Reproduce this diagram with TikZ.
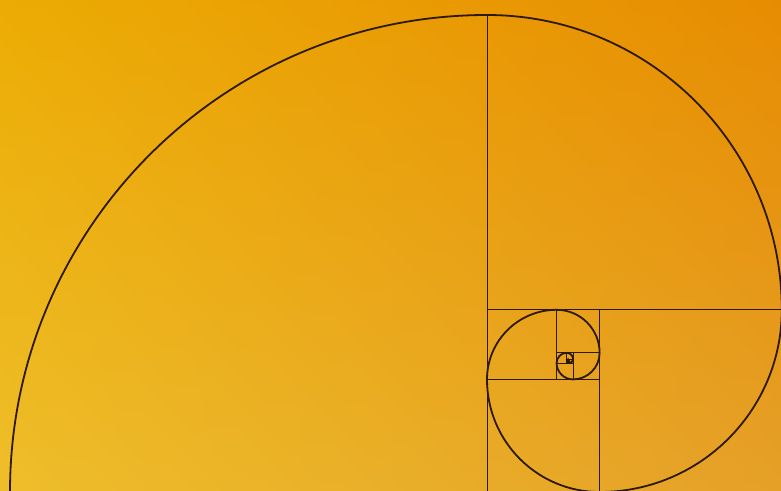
\documentclass[tikz,border=0pt]{standalone}
\usetikzlibrary{shadings}
\begin{document}
\begin{tikzpicture}[x=1pt,y=1pt,
  divider/.style={draw=linebrown, line width=1pt},
  spiralline/.style={draw=linebrown, line width=1.8pt, line cap=round, line join=round}]
\definecolor{linebrown}{RGB}{45,25,5}
\definecolor{cUL}{RGB}{236,172,4}
\definecolor{cUR}{RGB}{231,140,2}
\definecolor{cLL}{RGB}{238,190,42}
\definecolor{cLR}{RGB}{229,160,40}
\useasboundingbox (0,0) rectangle (781,490);
\shade[upper left=cUL, upper right=cUR, lower left=cLL, lower right=cLR] (0,0) rectangle (781,490);
\begin{scope}
\clip (0,0) rectangle (781,490);
% dividing lines of the golden rectangle
\draw[divider] (487.5,-2) -- (487.5,475);
\draw[divider] (487,180.2) -- (783,180.2);
\draw[divider] (599.6,-2) -- (599.6,180.2);
\draw[divider] (487,110.6) -- (599.6,110.6);
\draw[divider] (556.6,110.6) -- (556.6,180.2);
\draw[divider] (556.6,137.2) -- (599.6,137.2);
\draw[divider] (573.0,110.6) -- (573.0,137.2);
\draw[divider] (556.6,127.0) -- (573.0,127.0);
\draw[divider] (566.75,127.0) -- (566.75,137.2);
\draw[divider] (566.75,130.9) -- (573.0,130.9);
\draw[divider] (569.12,127.0) -- (569.12,130.9);
\fill[linebrown] (566.75,127.0) rectangle (569.12,130.9);
% golden spiral
\draw[spiralline] (10,-2)
  \foreach \r [count=\i] in {477,294.80,182.20,112.60,69.59,43.01,26.58,16.43,10.15,6.28,3.88,2.40,1.48}
  { arc[start angle={270-90*\i}, delta angle=-90, radius=\r] };
\end{scope}
\end{tikzpicture}
\end{document}
